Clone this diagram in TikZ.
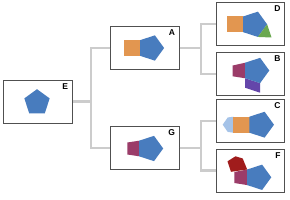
\documentclass[tikz,border=0pt]{standalone}
\usepackage{fontspec}
\setmainfont{Liberation Sans}
\definecolor{pblue}{RGB}{72,124,190}
\definecolor{porange}{RGB}{226,150,80}
\definecolor{pgreen}{RGB}{106,168,79}
\definecolor{pmaroon}{RGB}{155,60,105}
\definecolor{ppurple}{RGB}{100,70,170}
\definecolor{plight}{RGB}{165,195,232}
\definecolor{pdred}{RGB}{160,28,28}
\definecolor{boxgray}{RGB}{80,80,80}
\definecolor{linkgray}{RGB}{204,204,204}
\newcommand\pentshape[5]{\fill[#5,shift={(#1,#2)}] (#4:#3) -- (#4+72:#3) -- (#4+144:#3) -- (#4+216:#3) -- (#4+288:#3) -- cycle;}
\begin{document}
\begin{tikzpicture}[x=1pt,y=-1pt,
  framebox/.style={draw=boxgray,line width=0.9pt,fill=white,minimum width=68.5pt,minimum height=43pt,inner sep=0pt},
  lab/.style={font=\fontsize{8.5}{10}\selectfont\bfseries,inner sep=0pt,anchor=north east},
  link/.style={draw=linkgray,line width=2.8pt}]
\useasboundingbox (0,0) rectangle (290,200);
% connectors
\coordinate (j1) at (91,101.5);
\coordinate (j2) at (201,48);
\coordinate (j3) at (201,148);
% boxes
\node[framebox] (E) at (38,101.5) {};
\node[framebox] (A) at (145,48) {};
\node[framebox] (G) at (145,148) {};
\node[framebox] (D) at (250.5,24) {};
\node[framebox] (B) at (250.5,74) {};
\node[framebox] (C) at (250.5,121) {};
\node[framebox] (F) at (250.5,170.5) {};
% labels
\foreach \n in {E,A,G,D,B,C,F}{
  \node[lab] (\n lab) at ([xshift=-4.5pt,yshift=-3.5pt]\n.north east) {\n};
}
\draw[link] (E.east) -- (j1);
\draw[link] (A.west) -| (j1) |- (G.west);
\draw[link] (A.east) -- (j2);
\draw[link] (D.west) -| (j2) |- (B.west);
\draw[link] (G.east) -- (j3);
\draw[link] (C.west) -| (j3) |- (F.west);
% E
\pentshape{37}{102.5}{13.3}{270}{pblue}
% A
\fill[porange] (124.4,40.2) rectangle (140.05,55.8);
\pentshape{150.8}{48}{13.3}{0}{pblue}
% G
\fill[pmaroon] (127.3,142.5) -- (139.2,140.7) -- (139.2,156.3) -- (127.3,154.5) -- cycle;
\pentshape{149.9}{148.5}{13.3}{0}{pblue}
% D
\fill[porange] (227.4,16.5) rectangle (243.1,32.1);
\pentshape{253.8}{24.3}{13.3}{0}{pblue}
\fill[pgreen] (267.1,24.3) -- (257.9,36.95) -- (271.5,37.5) -- cycle;
% B
\fill[pmaroon] (232.7,65.5) -- (245.3,62.7) -- (245.3,78.3) -- (232.7,76.3) -- cycle;
\fill[ppurple] (245.2,78.3) -- (260.1,83.15) -- (260.1,92.7) -- (245.2,87.8) -- cycle;
\pentshape{256}{70.5}{13.3}{0}{pblue}
% C
\fill[plight] (222.7,124.7) -- (227.7,117.5) -- (233.4,116.7) -- (233.4,132.7) -- (227.7,131.9) -- cycle;
\fill[porange] (233.3,116.7) rectangle (249.5,132.7);
\pentshape{260.4}{124.7}{13.6}{0}{pblue}
% F
\fill[pmaroon] (234.3,172) -- (247.3,169.5) -- (247.3,185.1) -- (234.3,183) -- cycle;
\fill[pdred] (247.2,169.5) -- (242.7,158.5) -- (235.5,156.3) -- (227.5,161.3) -- (231,171.8) -- cycle;
\pentshape{258}{177.3}{13.3}{0}{pblue}
\end{tikzpicture}
\end{document}
